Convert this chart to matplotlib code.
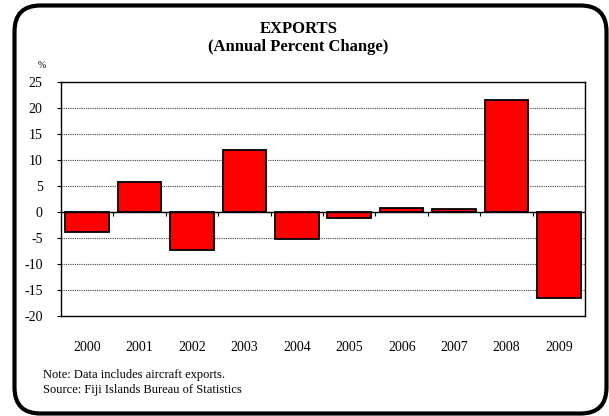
import matplotlib
matplotlib.use('Agg')
import matplotlib.pyplot as plt
from matplotlib.patches import FancyBboxPatch

years = ['2000', '2001', '2002', '2003', '2004', '2005', '2006', '2007', '2008', '2009']
changes = [-3.9, 5.7, -7.4, 12.0, -5.2, -1.2, 0.7, 0.6, 21.6, -16.5]
y_ticks = [25, 20, 15, 10, 5, 0, -5, -10, -15, -20]

plt.rcParams['font.family'] = ['Liberation Serif', 'DejaVu Serif']

fig = plt.figure(figsize=(6.09, 4.16), dpi=100)

# Rounded frame around the whole chart (background axes in pixel units).
bg = fig.add_axes([0, 0, 1, 1])
bg.set_xlim(0, 609)
bg.set_ylim(0, 416)
bg.axis('off')
frame = FancyBboxPatch((14.5, 2.5), 592, 408,
                       boxstyle='round,pad=0,rounding_size=26',
                       facecolor='white', edgecolor='black', linewidth=3)
bg.add_patch(frame)

ax = fig.add_axes([60.7 / 609, 1 - 316 / 416, 524.6 / 609, 234 / 416])
x = list(range(len(years)))
ax.bar(x, changes, width=0.83, color='#ff0000', edgecolor='black',
       linewidth=1.3, zorder=3)

ax.set_xlim(-0.5, len(years) - 0.5)
ax.set_ylim(-20, 25)
ax.set_yticks(y_ticks)
ax.set_yticklabels([str(v) for v in y_ticks], fontsize=10)
ax.yaxis.grid(True, linestyle=(0, (1, 1)), color='#444444', linewidth=0.8)
ax.set_axisbelow(True)

ax.set_xticks(x)
ax.set_xticklabels(years, fontsize=10)
ax.tick_params(axis='x', length=0, pad=18)
ax.tick_params(axis='y', length=3, width=0.8, pad=10)

# Zero line with category boundary tick marks.
ax.axhline(0, color='black', linewidth=1.0, zorder=4)
bounds = [i + 0.5 for i in x[:-1]]
ax.vlines(bounds, -0.7, 0, color='black', linewidth=0.8, zorder=4)

for s in ax.spines.values():
    s.set_color('black')
    s.set_linewidth(1.0)

fig.text(0.49, 1 - 29 / 416, 'EXPORTS', ha='center', va='center',
         fontsize=12, fontweight='bold')
fig.text(0.49, 1 - 47 / 416, '(Annual Percent Change)', ha='center',
         va='center', fontsize=12, fontweight='bold')
fig.text(42 / 609, 1 - 65 / 416, '%', ha='center', va='center', fontsize=7)

fig.text(43 / 609, 1 - 375 / 416, 'Note: Data includes aircraft exports.',
         ha='left', va='center', fontsize=9)
fig.text(43 / 609, 1 - 390 / 416, 'Source: Fiji Islands Bureau of Statistics',
         ha='left', va='center', fontsize=9)

fig.savefig('out.png', dpi=100)
